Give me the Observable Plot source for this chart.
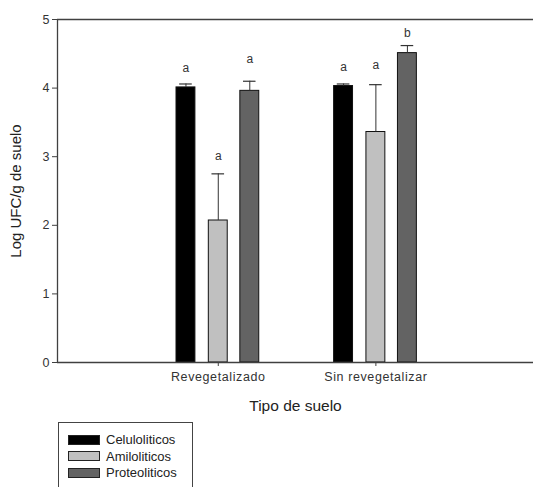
<!DOCTYPE html>
<html>
<head>
<meta charset="utf-8">
<script src="https://cdn.jsdelivr.net/npm/d3@7"></script>
<script src="https://cdn.jsdelivr.net/npm/@observablehq/plot@0.6"></script>
<style>
  html, body { margin: 0; padding: 0; background: #fff; overflow: hidden; }
  #wrap { position: relative; width: 533px; height: 487px; overflow: hidden; font-family: Arial, "Liberation Sans", sans-serif; }
  g[aria-label="x-axis tick label"] text { letter-spacing: 0.6px; }
  g[aria-label="ylabel"] text { letter-spacing: 1px; }
  #legend { position: absolute; left: 58px; top: 422px; width: 133px; height: 80px; border: 1px solid #444; background: #fff; }
  .item { position: absolute; left: 9px; display: flex; align-items: center; font-size: 13px; color: #222; }
  .sw { width: 30px; height: 8px; border: 1px solid #222; margin-right: 6px; }
</style>
</head>
<body>
<div id="wrap"></div>
<script>
const groups = ["Revegetalizado", "Sin revegetalizar"];
const series = ["Celuloliticos", "Amiloliticos", "Proteoliticos"];
const colors = ["#000000", "#c0c0c0", "#636363"];
// means per series (one value per group)
const celuloliticos = [4.01, 4.03];
const amiloliticos = [2.07, 3.36];
const proteoliticos = [3.96, 4.51];
// standard errors (upper bars)
const celuloliticosErr = [0.05, 0.03];
const amiloliticosErr = [0.68, 0.69];
const proteoliticosErr = [0.14, 0.11];
// significance letters and their heights
const letters = [["a", "a", "a"], ["a", "a", "b"]];
const letterY = [[4.29, 3.01, 4.42], [4.30, 4.33, 4.80]];
const yTicks = [0, 1, 2, 3, 4, 5];
const yLabel = "Log UFC/g de suelo";
const xLabel = "Tipo de suelo";

const means = [celuloliticos, amiloliticos, proteoliticos];
const errs = [celuloliticosErr, amiloliticosErr, proteoliticosErr];
const offsets = [-0.205, 0, 0.2];
const halfW = 0.06, capW = 0.04;

const rows = [];
groups.forEach((g, gi) => {
  series.forEach((s, si) => {
    const pos = gi + 1 + offsets[si];
    rows.push({
      group: g, series: s, color: colors[si],
      pos, x1: pos - halfW, x2: pos + halfW,
      c1: pos - capW, c2: pos + capW,
      mean: means[si][gi], top: means[si][gi] + errs[si][gi],
      letter: letters[gi][si], ly: letterY[gi][si]
    });
  });
});

const axisColor = "#404040";
const chart = Plot.plot({
  width: 533,
  height: 420,
  marginLeft: 57,
  marginRight: 0,
  marginTop: 19,
  marginBottom: 58,
  style: { fontFamily: "Arial, 'Liberation Sans', sans-serif", fontSize: "12px", color: "#333", background: "#fff" },
  x: { domain: [-0.02, 3], axis: null },
  y: { domain: [0, 5], axis: null },
  marks: [
    Plot.axisY({ ticks: yTicks, tickFormat: d => String(d), tickSize: 5, tickPadding: 3, stroke: axisColor, fill: "#333", fontSize: 12.5, label: null }),
    Plot.axisX({ ticks: [1, 2], tickFormat: d => groups[d - 1], tickSize: 4, tickPadding: 6, stroke: axisColor, fill: "#333", fontSize: 12.5, label: null }),
    Plot.text([yLabel], { frameAnchor: "left", textAnchor: "middle", dx: -41, rotate: -90, text: d => d, fontSize: 15, fill: "#222", ariaLabel: "ylabel" }),
    Plot.text([xLabel], { frameAnchor: "bottom", dy: 48, text: d => d, fontSize: 15.5, fill: "#222" }),
    Plot.rectY(rows, { x1: "x1", x2: "x2", y1: 0, y2: "mean", fill: "color", stroke: "#111", strokeWidth: 1 }),
    Plot.ruleX(rows, { x: "pos", y1: "mean", y2: "top", stroke: "#333", strokeWidth: 1 }),
    Plot.ruleY(rows, { y: "top", x1: "c1", x2: "c2", stroke: "#333", strokeWidth: 1.2 }),
    Plot.text(rows, { x: "pos", y: "ly", text: "letter", fontSize: 12, fill: "#333" }),
    Plot.ruleY([0, 5], { stroke: axisColor, strokeWidth: 1.3 }),
    Plot.ruleX([-0.02], { stroke: axisColor, strokeWidth: 1.3 })
  ]
});
document.getElementById("wrap").appendChild(chart);

const legend = document.createElement("div");
legend.id = "legend";
series.forEach((s, i) => {
  const it = document.createElement("div");
  it.className = "item";
  it.style.top = (9 + i * 16.5) + "px";
  const sw = document.createElement("div");
  sw.className = "sw";
  sw.style.background = colors[i];
  const t = document.createElement("span");
  t.textContent = s;
  it.appendChild(sw); it.appendChild(t);
  legend.appendChild(it);
});
document.getElementById("wrap").appendChild(legend);
</script>
</body>
</html>
